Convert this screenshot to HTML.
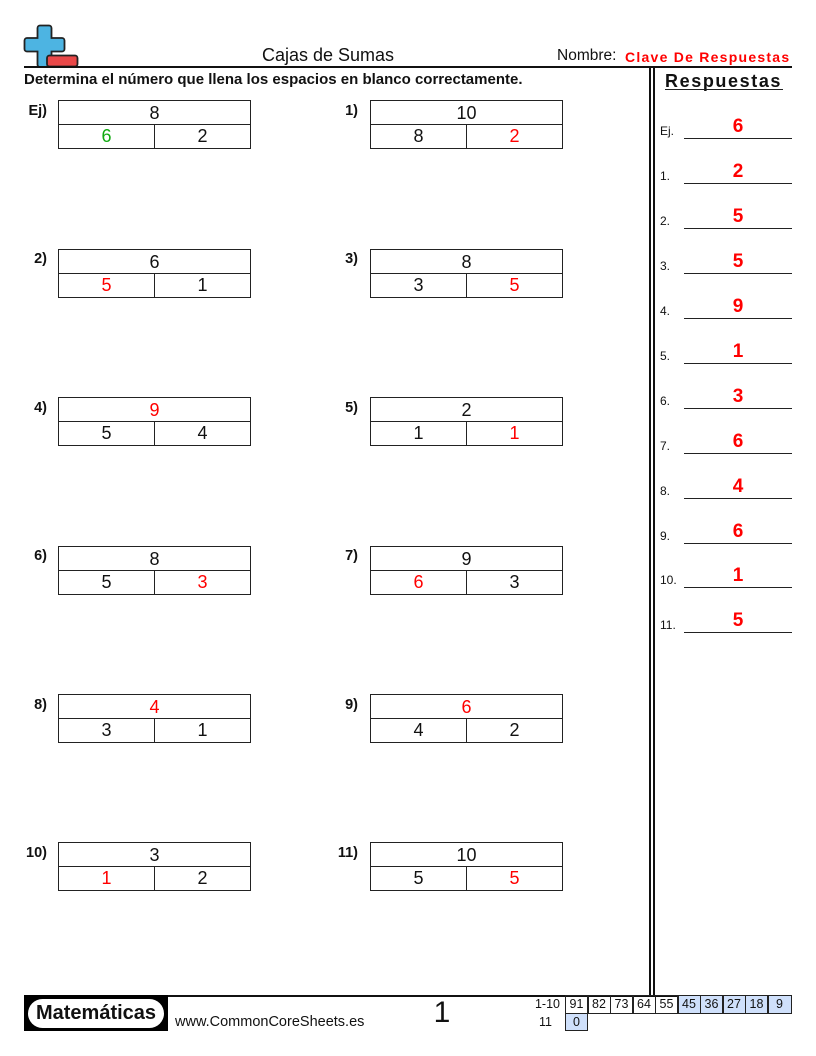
<!DOCTYPE html>
<html><head><meta charset="utf-8">
<style>
*{margin:0;padding:0;box-sizing:border-box}
body{width:816px;height:1056px;background:#fff;position:relative;overflow:hidden;font-family:"Liberation Sans",Arial,sans-serif;color:#111}
.a{position:absolute}
.box{position:absolute;width:193px;height:49px;border:1.5px solid #222}
.box .h{position:absolute;left:0;right:0;top:23px;border-top:1.5px solid #222}
.box .v{position:absolute;left:94.5px;top:24px;bottom:0;border-left:1.5px solid #222}
.box .t{position:absolute;left:0;right:0;top:0;height:24px;line-height:24px;text-align:center;font-size:18px}
.box .l,.box .r{position:absolute;top:24px;height:23px;line-height:23px;text-align:center;font-size:18px;width:95px}
.box .l{left:0}.box .r{right:0}
.red{color:#f00}.grn{color:#11aa11}
.lbl{position:absolute;font-weight:bold;font-size:14.5px;text-align:right;width:40px}
.ans{position:absolute;left:660px;width:132px;height:20px}
.ans .n{position:absolute;left:0;bottom:1px;font-size:12px}
.ans .ln{position:absolute;left:24px;right:0;bottom:0;border-top:1.4px solid #222}
.ans .d{position:absolute;left:24px;right:0;bottom:1px;text-align:center;font-weight:bold;font-size:19px;color:#f00}
.cell{position:absolute;width:23px;height:18.5px;border:1px solid #222;font-size:12.5px;text-align:center;line-height:16px}
.blue{background:#cfe0fb}
</style></head><body>

<!-- logo -->
<svg class="a" style="left:20px;top:22px" width="62" height="48" viewBox="20 22 62 48">
  <path d="M40 25.5 h9 a2.5 2.5 0 0 1 2.5 2.5 v10 h10.5 a2.5 2.5 0 0 1 2.5 2.5 v8.5 a2.5 2.5 0 0 1 -2.5 2.5 h-10.5 v13 a2.5 2.5 0 0 1 -2.5 2.5 h-9 a2.5 2.5 0 0 1 -2.5 -2.5 v-13 h-10.5 a2.5 2.5 0 0 1 -2.5 -2.5 v-8.5 a2.5 2.5 0 0 1 2.5 -2.5 h10.5 v-10 a2.5 2.5 0 0 1 2.5 -2.5 z" fill="#4db4e2" stroke="#222" stroke-width="1.8"/>
  <rect x="47" y="55.5" width="30.5" height="11" rx="2.5" fill="#e94848" stroke="#222" stroke-width="1.8"/>
</svg>

<div class="a" style="left:24px;top:66px;width:768px;height:2px;background:#111"></div>
<div class="a" style="left:228px;top:44px;width:200px;text-align:center;font-size:18px;line-height:22px">Cajas de Sumas</div>
<div class="a" style="left:557px;top:47px;font-size:15.5px;line-height:18px;white-space:nowrap">Nombre:</div>
<div class="a" style="left:625px;top:48px;color:#f00;font-weight:bold;font-size:14px;letter-spacing:1.25px;line-height:18px;white-space:nowrap">Clave De Respuestas</div>
<div class="a" style="left:24px;top:71px;font-size:15px;font-weight:bold;line-height:18px;white-space:nowrap">Determina el número que llena los espacios en blanco correctamente.</div>

<!-- divider -->
<div class="a" style="left:649px;top:68px;width:2px;height:928px;background:#111"></div>
<div class="a" style="left:653px;top:68px;width:2px;height:928px;background:#111"></div>

<div class="a" style="left:665px;top:71px;font-size:18px;font-weight:bold;letter-spacing:1.6px;line-height:21px;white-space:nowrap">Respuestas</div>
<div class="a" style="left:665px;top:88.5px;width:118px;height:1.5px;background:#222"></div>

<!-- labels -->
<div class="lbl" style="left:7px;top:103px">Ej)</div>
<div class="lbl" style="left:318px;top:103px">1)</div>
<div class="lbl" style="left:7px;top:251px">2)</div>
<div class="lbl" style="left:318px;top:251px">3)</div>
<div class="lbl" style="left:7px;top:400px">4)</div>
<div class="lbl" style="left:318px;top:400px">5)</div>
<div class="lbl" style="left:7px;top:548px">6)</div>
<div class="lbl" style="left:318px;top:548px">7)</div>
<div class="lbl" style="left:7px;top:697px">8)</div>
<div class="lbl" style="left:318px;top:697px">9)</div>
<div class="lbl" style="left:7px;top:845px">10)</div>
<div class="lbl" style="left:318px;top:845px">11)</div>

<!-- boxes -->
<div class="box" style="left:58px;top:100px"><div class="h"></div><div class="v"></div><div class="t">8</div><div class="l grn">6</div><div class="r">2</div></div>
<div class="box" style="left:370px;top:100px"><div class="h"></div><div class="v"></div><div class="t">10</div><div class="l">8</div><div class="r red">2</div></div>
<div class="box" style="left:58px;top:248.5px"><div class="h"></div><div class="v"></div><div class="t">6</div><div class="l red">5</div><div class="r">1</div></div>
<div class="box" style="left:370px;top:248.5px"><div class="h"></div><div class="v"></div><div class="t">8</div><div class="l">3</div><div class="r red">5</div></div>
<div class="box" style="left:58px;top:397px"><div class="h"></div><div class="v"></div><div class="t red">9</div><div class="l">5</div><div class="r">4</div></div>
<div class="box" style="left:370px;top:397px"><div class="h"></div><div class="v"></div><div class="t">2</div><div class="l">1</div><div class="r red">1</div></div>
<div class="box" style="left:58px;top:545.5px"><div class="h"></div><div class="v"></div><div class="t">8</div><div class="l">5</div><div class="r red">3</div></div>
<div class="box" style="left:370px;top:545.5px"><div class="h"></div><div class="v"></div><div class="t">9</div><div class="l red">6</div><div class="r">3</div></div>
<div class="box" style="left:58px;top:694px"><div class="h"></div><div class="v"></div><div class="t red">4</div><div class="l">3</div><div class="r">1</div></div>
<div class="box" style="left:370px;top:694px"><div class="h"></div><div class="v"></div><div class="t red">6</div><div class="l">4</div><div class="r">2</div></div>
<div class="box" style="left:58px;top:842px"><div class="h"></div><div class="v"></div><div class="t">3</div><div class="l red">1</div><div class="r">2</div></div>
<div class="box" style="left:370px;top:842px"><div class="h"></div><div class="v"></div><div class="t">10</div><div class="l">5</div><div class="r red">5</div></div>

<!-- answers -->
<div class="ans" style="top:119px"><span class="n">Ej.</span><div class="ln"></div><div class="d grn">6</div></div>
<div class="ans" style="top:164px"><span class="n">1.</span><div class="ln"></div><div class="d">2</div></div>
<div class="ans" style="top:209px"><span class="n">2.</span><div class="ln"></div><div class="d">5</div></div>
<div class="ans" style="top:254px"><span class="n">3.</span><div class="ln"></div><div class="d">5</div></div>
<div class="ans" style="top:299px"><span class="n">4.</span><div class="ln"></div><div class="d">9</div></div>
<div class="ans" style="top:344px"><span class="n">5.</span><div class="ln"></div><div class="d">1</div></div>
<div class="ans" style="top:389px"><span class="n">6.</span><div class="ln"></div><div class="d">3</div></div>
<div class="ans" style="top:434px"><span class="n">7.</span><div class="ln"></div><div class="d">6</div></div>
<div class="ans" style="top:479px"><span class="n">8.</span><div class="ln"></div><div class="d">4</div></div>
<div class="ans" style="top:524px"><span class="n">9.</span><div class="ln"></div><div class="d">6</div></div>
<div class="ans" style="top:568px"><span class="n">10.</span><div class="ln"></div><div class="d">1</div></div>
<div class="ans" style="top:613px"><span class="n">11.</span><div class="ln"></div><div class="d">5</div></div>

<!-- footer -->
<div class="a" style="left:24px;top:995px;width:768px;height:1.5px;background:#111"></div>
<div class="a" style="left:24px;top:995px;width:144px;height:36px;background:#000"></div>
<div class="a" style="left:28px;top:999px;width:136px;height:29px;background:#fff;border-radius:15px;text-align:center;font-weight:bold;font-size:20px;line-height:29px;color:#111">Matemáticas</div>
<div class="a" style="left:175px;top:1014px;font-size:14.5px;line-height:17px">www.CommonCoreSheets.es</div>
<div class="a" style="left:420px;top:996px;width:44px;text-align:center;font-size:30px;line-height:34px">1</div>

<div class="a" style="left:520px;top:996px;width:40px;text-align:right;font-size:12.5px;line-height:16px">1-10</div>
<div class="a" style="left:520px;top:1014px;width:32px;text-align:right;font-size:12.5px;line-height:16px">11</div>
<div class="cell" style="left:565px;top:995px">91</div>
<div class="cell" style="left:587.5px;top:995px">82</div>
<div class="cell" style="left:610px;top:995px">73</div>
<div class="cell" style="left:632.5px;top:995px">64</div>
<div class="cell" style="left:655px;top:995px">55</div>
<div class="cell blue" style="left:677.5px;top:995px">45</div>
<div class="cell blue" style="left:700px;top:995px">36</div>
<div class="cell blue" style="left:722.5px;top:995px">27</div>
<div class="cell blue" style="left:745px;top:995px">18</div>
<div class="cell blue" style="left:767.5px;top:995px;width:24px">9</div>
<div class="cell blue" style="left:565px;top:1012.5px">0</div>

</body></html>
